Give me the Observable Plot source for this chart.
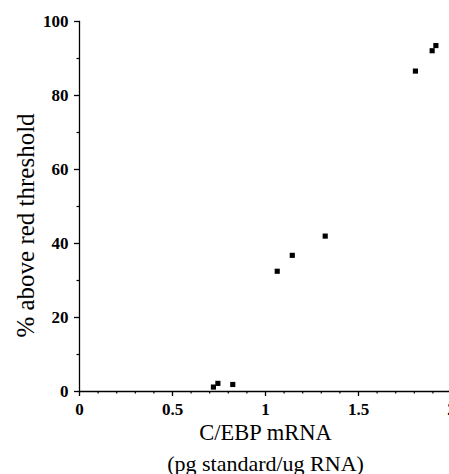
<!DOCTYPE html>
<html>
<head>
<meta charset="utf-8">
<script src="https://cdn.jsdelivr.net/npm/d3@7"></script>
<script src="https://cdn.jsdelivr.net/npm/@observablehq/plot@0.6"></script>
<style>
  html, body { margin: 0; padding: 0; background: #fff; }
  #chart svg { display: block; }
</style>
</head>
<body>
<div id="chart"></div>
<script>
// Data
const mrna = [0.72, 0.744, 0.824, 1.063, 1.144, 1.321, 1.806, 1.896, 1.916];
const pctAboveThreshold = [1.2, 2.2, 1.9, 32.5, 36.8, 42.0, 86.6, 92.1, 93.5];

const xMajorTicks = [0, 0.5, 1, 1.5, 2];
const xTickLabels = ["0", "0.5", "1", "1.5", "2"];
const xMinorTicks = [0.1, 0.2, 0.3, 0.4, 0.6, 0.7, 0.8, 0.9, 1.1, 1.2, 1.3, 1.4, 1.6, 1.7, 1.8, 1.9];
const yMajorTicks = [0, 20, 40, 60, 80, 100];
const yMinorTicks = [10, 30, 50, 70, 90];

const xTitle = "C/EBP mRNA";
const xSubtitle = "(pg standard/ug RNA)";
const yTitle = "% above red threshold";

const points = mrna.map((x, i) => ({x, y: pctAboveThreshold[i]}));

const font = "'Liberation Serif', 'Times New Roman', serif";

const chart = Plot.plot({
  width: 449,
  height: 474,
  marginLeft: 79,
  marginRight: -2,
  marginTop: 21,
  marginBottom: 83,
  style: {fontFamily: font, color: "#000", background: "#fff"},
  x: {domain: [0, 2]},
  y: {domain: [0, 100]},
  marks: [
    Plot.frame({anchor: "left", stroke: "#000", strokeWidth: 1.3}),
    Plot.frame({anchor: "bottom", stroke: "#000", strokeWidth: 1.3}),
    Plot.axisY({ticks: yMajorTicks, tickSize: 5, tickPadding: 6, fontSize: 17, fontWeight: "bold", label: null, strokeWidth: 1.3}),
    Plot.axisY({ticks: yMinorTicks, tickSize: 2.5, text: null, label: null, strokeWidth: 1.2}),
    Plot.axisX({ticks: xMajorTicks, tickSize: 5, tickPadding: 6, fontSize: 17, fontWeight: "bold", label: null, strokeWidth: 1.3,
      tickFormat: d => xTickLabels[xMajorTicks.indexOf(d)]}),
    Plot.axisX({ticks: xMinorTicks, tickSize: 2.5, text: null, label: null, strokeWidth: 1.2}),
    Plot.dot(points, {x: "x", y: "y", symbol: "square", r: 2.9, fill: "#000", stroke: null}),
    Plot.text([xTitle], {frameAnchor: "bottom", lineAnchor: "middle", textAnchor: "middle", dy: 41, fontSize: 22.5, fill: "#000"}),
    Plot.text([xSubtitle], {frameAnchor: "bottom", lineAnchor: "middle", textAnchor: "middle", dy: 72, fontSize: 22, fill: "#000"}),
    Plot.text([yTitle], {frameAnchor: "left", lineAnchor: "middle", textAnchor: "middle", dx: -54, dy: 19, rotate: -90, fontSize: 25, fill: "#000"})
  ]
});
document.getElementById("chart").appendChild(chart);
</script>
</body>
</html>
